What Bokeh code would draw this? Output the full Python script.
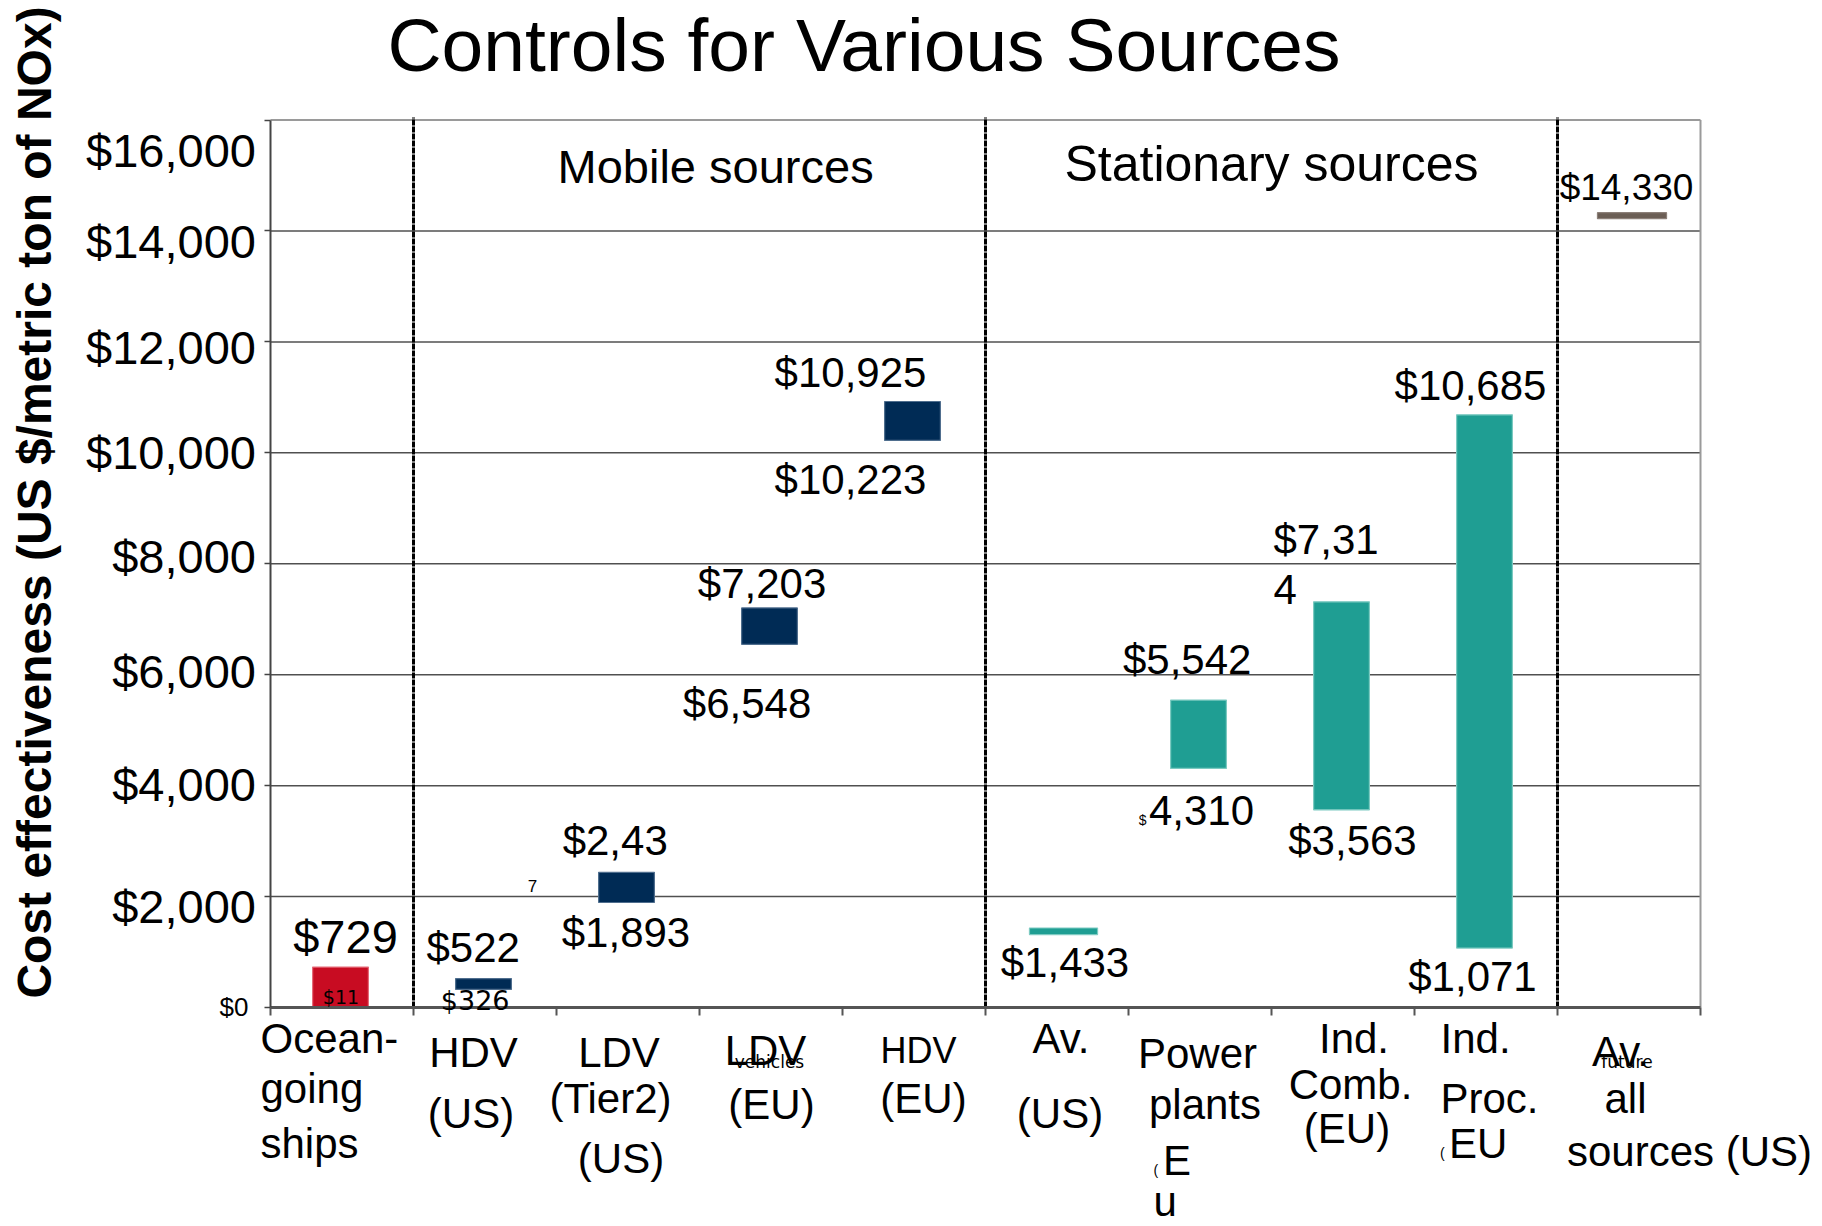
import math
from bokeh.plotting import figure
from bokeh.models import (ColumnDataSource, LabelSet, FixedTicker, Range1d)
from bokeh.core.properties import value
from bokeh.embed import file_html
from bokeh.resources import INLINE

# ---------------- data ----------------
categories = ["Ocean-going ships", "HDV (US)", "LDV (Tier2) (US)", "LDV (EU)", "HDV (EU)",
              "Av. (US)", "Power plants (EU)", "Ind. Comb. (EU)", "Ind. Proc. (EU)",
              "Av. future all sources (US)"]
low_cost = [11, 326, 1893, 6548, 10223, 1315, 4310, 3563, 1071, 14220]
high_cost = [729, 522, 2437, 7203, 10925, 1433, 5542, 7314, 10685, 14330]
group = ["ships", "mobile", "mobile", "mobile", "mobile",
         "stationary", "stationary", "stationary", "stationary", "average"]
y_ticks = [0, 2000, 4000, 6000, 8000, 10000, 12000, 14000, 16000]
y_tick_labels = ["$0", "$2,000", "$4,000", "$6,000", "$8,000", "$10,000", "$12,000", "$14,000", "$16,000"]
separators = [1, 5, 9]
section_names = ["Mobile sources", "Stationary sources"]
title_text = "Controls for Various Sources"
y_title = "Cost effectiveness (US $/metric ton of NOx)"

# value labels as printed in the picture: (text, category index, which end)
value_labels = [
    ("$729", 0, "high"), ("$11", 0, "low"),
    ("$522", 1, "high"), ("$326", 1, "low"),
    ("$2,43", 2, "high"), ("7", 2, "high"), ("$1,893", 2, "low"),
    ("$7,203", 3, "high"), ("$6,548", 3, "low"),
    ("$10,925", 4, "high"), ("$10,223", 4, "low"),
    ("$1,433", 5, "high"),
    ("$5,542", 6, "high"), ("$", 6, "low"), ("4,310", 6, "low"),
    ("$7,31", 7, "high"), ("4", 7, "high"), ("$3,563", 7, "low"),
    ("$10,685", 8, "high"), ("$1,071", 8, "low"),
    ("$14,330", 9, "high"),
]
# category tick-label lines, as broken in the picture
category_lines = [
    (0, "Ocean-"), (0, "going"), (0, "ships"),
    (1, "HDV"), (1, "(US)"),
    (2, "LDV"), (2, "(Tier2)"), (2, "(US)"),
    (3, "LDV"), (3, "vehicles"), (3, "(EU)"),
    (4, "HDV"), (4, "(EU)"),
    (5, "Av."), (5, "(US)"),
    (6, "Power"), (6, "plants"), (6, "("), (6, "E"), (6, "u"),
    (7, "Ind."), (7, "Comb."), (7, "(EU)"),
    (8, "Ind."), (8, "Proc."), (8, "("), (8, "EU"),
    (9, "Av."), (9, "future"), (9, "all"), (9, "sources (US)"),
]

# ---------------- styles ----------------
FONT = "Liberation Sans"
SMALLFONT = "DejaVu Sans"
fill_colors = {"ships": "#C80C22", "mobile": "#002B55", "stationary": "#1F9E93", "average": "#6B5E55"}
edge_colors = {"ships": "#E56A78", "mobile": "#4F6E8E", "stationary": "#7CCAC1", "average": "#8C8079"}
bar_width = [0.39, 0.39, 0.39, 0.39, 0.39, 0.476, 0.39, 0.39, 0.39, 0.483]
bar_shift_px = [-1.5, -1.5, -1.5, -1.5, -1.5, 6.5, -1.5, -1.5, -1.5, 3.0]

# y tick label style: (baseline px below the tick, size px, right edge px left of axis)
y_label_style = [(8, 26, 22), (26, 47, 14.5), (15, 47, 14.5), (13, 47, 14.5), (9, 47, 14.5),
                 (16, 47, 14.5), (22, 47, 14.5), (27, 47, 14.5), (47, 47, 14.5)]

# (dx px from slot centre, dy px from value; + = down, size, font, align)
value_label_style = [
    (3.5, -13.6, 47, FONT, "center"), (-1, -3, 19, SMALLFONT, "center"),
    (-11.8, -16.4, 42, FONT, "center"), (-9.8, 21, 27, SMALLFONT, "center"),
    (-12.8, -17, 42, FONT, "center"), (-95.5, 19.8, 17, FONT, "center"), (-2, 44.7, 42, FONT, "center"),
    (-8.9, -9.6, 42, FONT, "center"), (-23.9, 74, 42, FONT, "center"),
    (-63.5, -14.5, 42, FONT, "center"), (-63.5, 53.2, 42, FONT, "center"),
    (8, 49, 42, FONT, "center"),
    (-12.8, -26.4, 42, FONT, "center"), (-53.5, 57, 14, FONT, "right"), (1.5, 57, 42, FONT, "center"),
    (-69.5, -48, 42, FONT, "left"), (-69.5, 2, 42, FONT, "left"), (9.5, 45.6, 42, FONT, "center"),
    (-15.5, -14.5, 42, FONT, "center"), (-13.5, 43, 42, FONT, "center"),
    (-2.5, -12.4, 37, FONT, "center"),
]
# (dx px from slot centre, dy px below axis, size, font, align)
category_line_style = [
    (-81.5, 45, 42, FONT, "left"), (-81.5, 95, 42, FONT, "left"), (-81.5, 150, 42, FONT, "left"),
    (-11.5, 59, 42, FONT, "center"), (-14, 120, 42, FONT, "center"),
    (-9, 59, 42, FONT, "center"), (-17.5, 105, 42, FONT, "center"), (-7, 165, 42, FONT, "center"),
    (-5.5, 57, 42, FONT, "center"), (-1.5, 60, 17, SMALLFONT, "center"), (0.5, 111, 42, FONT, "center"),
    (4.5, 55, 36, FONT, "center"), (9.5, 105, 42, FONT, "center"),
    (4, 45, 42, FONT, "center"), (3, 120, 42, FONT, "center"),
    (-2.5, 60, 42, FONT, "center"), (5, 111, 42, FONT, "center"),
    (-46.5, 167, 14, FONT, "left"), (-37, 167, 42, FONT, "left"), (-46.5, 208, 42, FONT, "left"),
    (11, 45, 42, FONT, "center"), (7.5, 91, 42, FONT, "center"), (4, 135, 42, FONT, "center"),
    (-45.5, 45, 42, FONT, "left"), (-45.5, 105, 42, FONT, "left"), (-46, 150, 14, FONT, "left"),
    (-37, 150, 42, FONT, "left"),
    (-8.5, 58, 42, FONT, "center"), (-2, 60, 17, SMALLFONT, "center"), (-3.5, 105, 42, FONT, "center"),
    (60.5, 158, 42, FONT, "center"),
]

# ---------------- geometry ----------------
W, H = 1822, 1226
AX_X = 270.0      # canvas x of the value axis
AX_Y = 1007.0     # canvas y of the category axis ($0)
TOP_Y = 119.5     # canvas y of $16,000
N = len(categories)
Y0, Y1 = y_ticks[0], y_ticks[-1]
SLOT = 143.0
PPU = (AX_Y - TOP_Y) / (Y1 - Y0)

x_range = Range1d(-AX_X / SLOT, (W - AX_X) / SLOT)
y_range = Range1d(-(H - AX_Y) / PPU, AX_Y / PPU)


def xd(i, dx_px):
    return i + 0.5 + dx_px / SLOT


def yd(v, dy_px):
    return v - dy_px / PPU


p = figure(width=W, height=H, x_range=x_range, y_range=y_range,
           output_backend="svg", toolbar_location=None,
           min_border=0, min_border_left=0, min_border_right=0,
           min_border_top=0, min_border_bottom=0)
p.background_fill_color = "white"
p.border_fill_color = "white"
p.outline_line_color = None
p.grid.visible = False

# gridlines and plot border
grid_vals = y_ticks[1:-1]
p.segment(x0=[0] * len(grid_vals), y0=grid_vals, x1=[N] * len(grid_vals), y1=grid_vals,
          line_color="#505050", line_width=1.5)
p.segment(x0=[0, N], y0=[Y1, Y0], x1=[N, N], y1=[Y1, Y1], line_color="#9a9a9a", line_width=2)

# bars
src = ColumnDataSource(dict(
    x=[i + 0.5 + bar_shift_px[i] / SLOT for i in range(N)],
    low=low_cost, high=high_cost, w=bar_width,
    fill=[fill_colors[g] for g in group],
    edge=[edge_colors[g] for g in group],
    cat=categories,
))
p.vbar(x="x", width="w", bottom="low", top="high", fill_color="fill",
       line_color="edge", line_width=1.2, source=src)

# separators between source groups
p.segment(x0=separators, y0=[Y0] * len(separators), x1=separators,
          y1=[yd(Y1, -2.5)] * len(separators),
          line_color="black", line_width=3, line_dash="6 1")

# y axis (fixed at x = 0)
ya = p.yaxis[0]
ya.fixed_location = 0
ya.bounds = (Y0, Y1)
ya.ticker = FixedTicker(ticks=y_ticks)
ya.major_label_overrides = {t: "" for t in y_ticks}
ya.major_tick_out = 6
ya.major_tick_in = 0
ya.minor_tick_out = 0
ya.minor_tick_in = 0
ya.axis_line_color = "#444444"
ya.axis_line_width = 2
ya.major_tick_line_color = "#444444"
ya.major_tick_line_width = 1.5

# x axis (fixed at $0; ticks at category boundaries)
xa = p.xaxis[0]
xa.fixed_location = 0
xa.bounds = (0, N)
xa.ticker = FixedTicker(ticks=list(range(N + 1)))
xa.major_label_overrides = {i: "" for i in range(N + 1)}
xa.major_tick_out = 8
xa.major_tick_in = 0
xa.minor_tick_out = 0
xa.minor_tick_in = 0
xa.axis_line_color = "#555555"
xa.axis_line_width = 3
xa.major_tick_line_color = "#555555"
xa.major_tick_line_width = 2


def add_text_rows(rows):
    groups = {}
    for r in rows:
        key = (r["size"], r["font"], r["align"], r.get("style", "normal"), r.get("angle", 0.0))
        groups.setdefault(key, []).append(r)
    for (size, font, align, style, angle), rs in groups.items():
        s = ColumnDataSource(dict(x=[r["x"] for r in rs], y=[r["y"] for r in rs],
                                  text=[r["text"] for r in rs]))
        p.add_layout(LabelSet(x="x", y="y", text="text", source=s, angle=angle,
                              text_font=value(font), text_font_size=f"{size}px",
                              text_font_style=style,
                              text_align=align, text_baseline="alphabetic",
                              text_color="black"))


rows = []
for t, lab, (dy, size, gap) in zip(y_ticks, y_tick_labels, y_label_style):
    rows.append(dict(text=lab, x=-gap / SLOT, y=yd(t, dy), size=size, font=FONT, align="right"))
for (txt, i, end), (dx, dy, size, font, align) in zip(value_labels, value_label_style):
    v = high_cost[i] if end == "high" else low_cost[i]
    rows.append(dict(text=txt, x=xd(i, dx), y=yd(v, dy), size=size, font=font, align=align))
for (i, txt), (dx, dy, size, font, align) in zip(category_lines, category_line_style):
    rows.append(dict(text=txt, x=xd(i, dx), y=yd(Y0, dy), size=size, font=font, align=align))

# section headings
rows.append(dict(text=section_names[0], x=xd(2, 87.6), y=yd(Y1, 62.5), size=47, font=FONT, align="center"))
rows.append(dict(text=section_names[1], x=xd(6, 71.5), y=yd(Y1, 60.5), size=50, font=FONT, align="center"))
# title (right at the top edge as in the picture, kept fully inside the page)
rows.append(dict(text=title_text, x=xd(3, 93), y=yd(Y1, -49), size=75, font=FONT, align="center"))
# y axis title
rows.append(dict(text=y_title, x=xd(0, -291.5), y=yd(Y1, 382.5), size=48, font=FONT,
                 align="center", style="bold", angle=math.pi / 2))
add_text_rows(rows)

open("out.html", "w").write(file_html(p, INLINE))
